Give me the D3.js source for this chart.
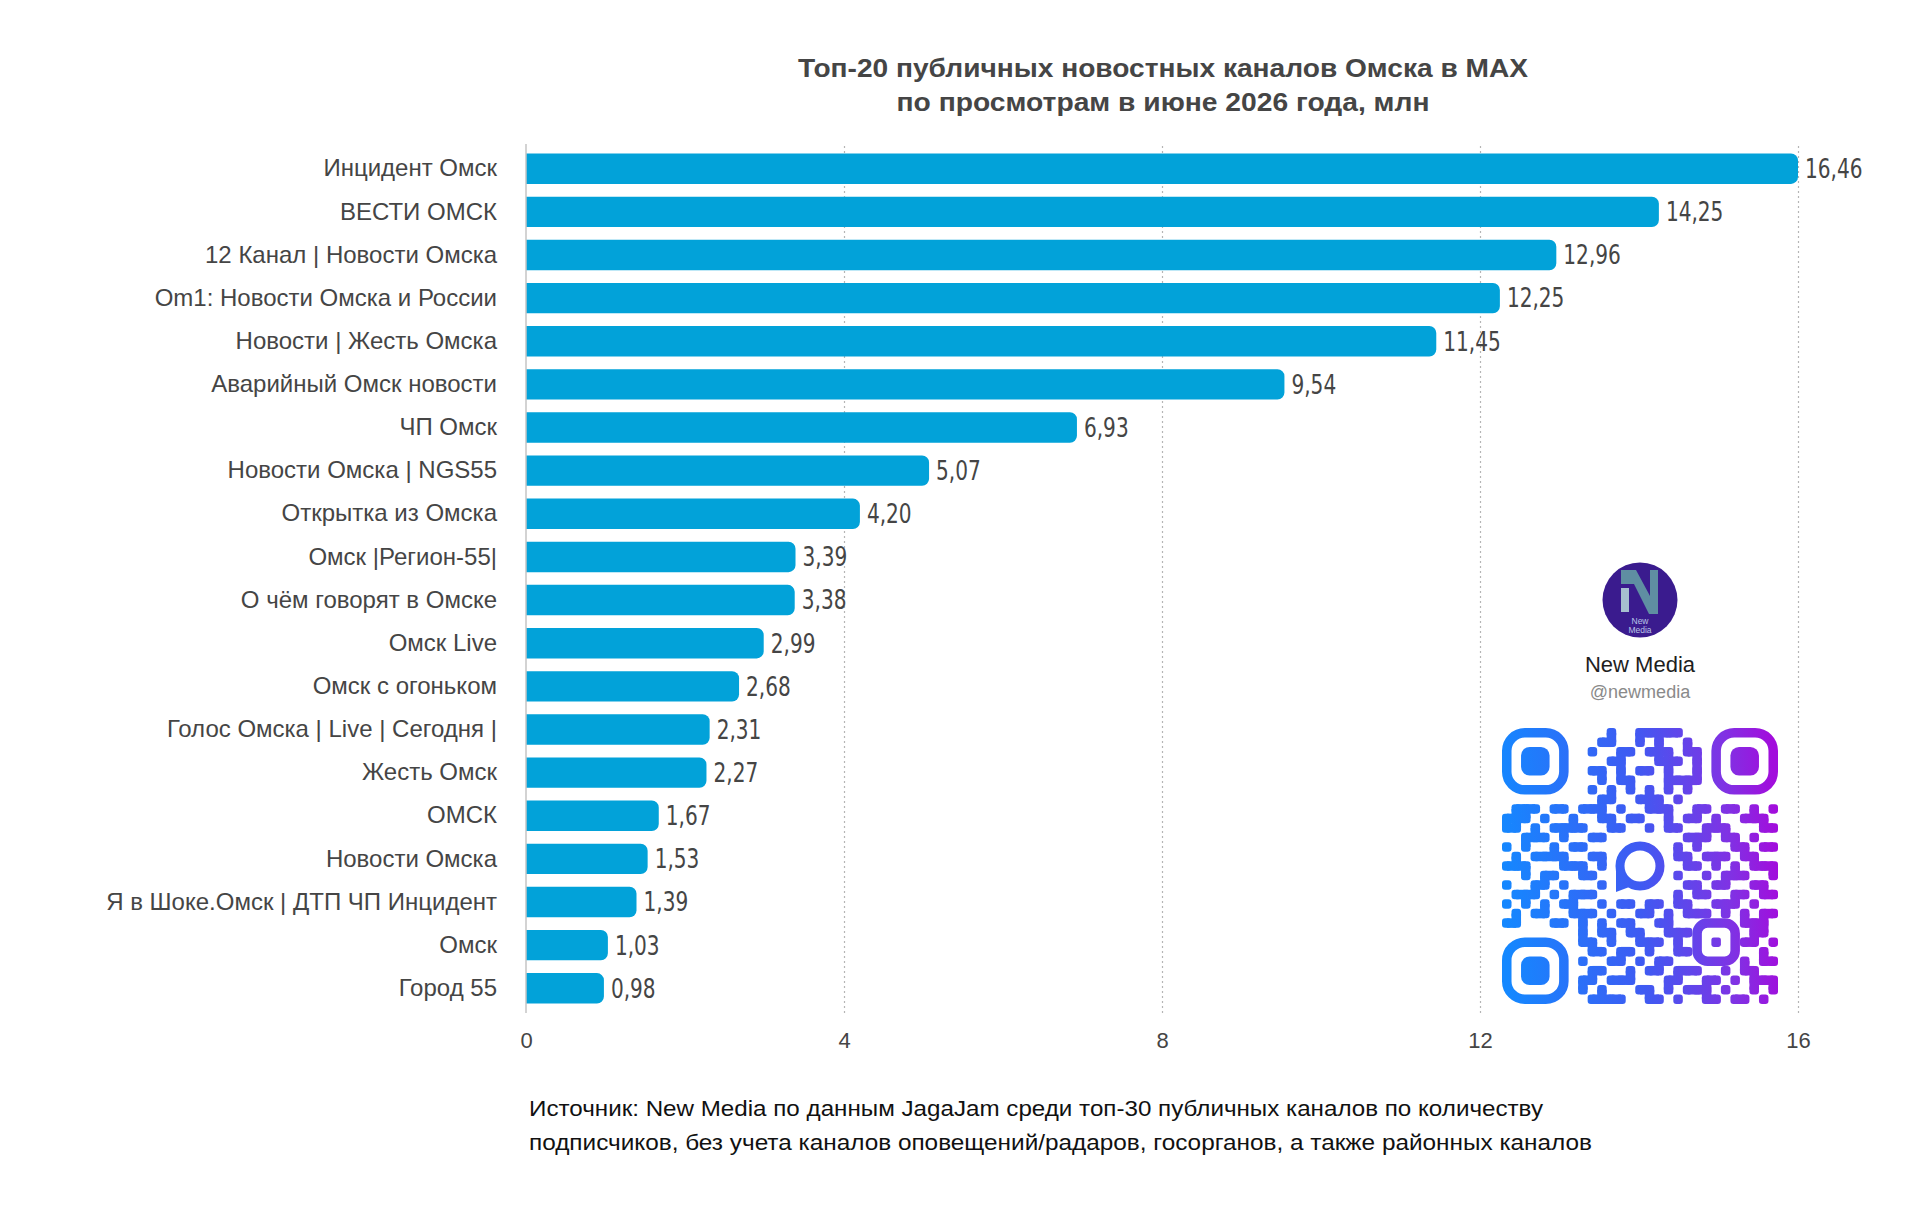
<!DOCTYPE html>
<html>
<head>
<meta charset="utf-8">
<script src="https://cdn.jsdelivr.net/npm/d3@7"></script>
<style>
  body { margin: 0; background: #fff; }
  svg { display: block; }
</style>
</head>
<body>
<svg id="chart" width="1920" height="1217"></svg>
<script>
const channels = [
  "Инцидент Омск",
  "ВЕСТИ ОМСК",
  "12 Канал | Новости Омска",
  "Om1: Новости Омска и России",
  "Новости | Жесть Омска",
  "Аварийный Омск новости",
  "ЧП Омск",
  "Новости Омска | NGS55",
  "Открытка из Омска",
  "Омск |Регион-55|",
  "О чём говорят в Омске",
  "Омск Live",
  "Омск с огоньком",
  "Голос Омска | Live | Сегодня |",
  "Жесть Омск",
  "ОМСК",
  "Новости Омска",
  "Я в Шоке.Омск | ДТП ЧП Инцидент",
  "Омск",
  "Город 55",
];
const views = [16.46, 14.25, 12.96, 12.25, 11.45, 9.54, 6.93, 5.07, 4.2, 3.39,
  3.38, 2.99, 2.68, 2.31, 2.27, 1.67, 1.53, 1.39, 1.03, 0.98];
const x_ticks = [0, 4, 8, 12, 16];

const title_lines = [
  "Топ-20 публичных новостных каналов Омска в MAX",
  "по просмотрам в июне 2026 года, млн",
];
const note_lines = [
  "Источник: New Media по данным JagaJam среди топ-30 публичных каналов по количеству",
  "подписчиков, без учета каналов оповещений/радаров, госорганов, а также районных каналов",
];

// decorative qr picture, 29 x 29 modules
const qr_rows = [
  "00000000000100111110000000000",
  "00000000001100101001000000000",
  "00000000010011011101100000000",
  "00000000000110001110100000000",
  "00000000011010110100110000000",
  "00000000001011000111100000000",
  "00000000010101010101010000000",
  "00000000001100111010010000000",
  "01110110111010011100110110101",
  "11101001001101100101101001110",
  "11010111100110010110011100011",
  "00111010011011001001110110100",
  "10100101100101110110100011011",
  "01011110011000101011011101100",
  "11100011101101010001101010111",
  "00101100110010111110010111001",
  "10011010001101001001101100110",
  "01110101110110100110110011011",
  "10101011001011011011001110100",
  "01011001110100110101110101011",
  "11000110101011001100011011110",
  "00000000101101100111011010110",
  "00000000110100111010101101101",
  "00000000011011010011010110010",
  "00000000100110101100101011011",
  "00000000011001011011100101100",
  "00000000110111000110011010111",
  "00000000101000110101110100101",
  "00000000011110011010011011010",
];

const margin = { left: 526, right: 122, top: 144, bottom: 204 };
const width = 1920;
const height = 1217;
const text_grey = "#454545";
const bar_color = "#02a2d9";

const svg = d3.select("#chart");
svg.append("rect").attr("width", width).attr("height", height).attr("fill", "#fff");

const x = d3.scaleLinear()
  .domain([0, 16])
  .range([margin.left, width - margin.right])
  .clamp(true);

const y = d3.scaleBand()
  .domain(channels)
  .range([margin.top, height - margin.bottom])
  .paddingInner(0.295)
  .paddingOuter(0.22);

const plot_bottom = height - margin.bottom;

// title, stretched to the width of the original lettering
const title_widths = [730, 533];
svg.append("g")
  .selectAll("text")
  .data(title_lines)
  .join("text")
  .attr("x", 1163)
  .attr("y", (d, i) => 77 + i * 34)
  .attr("text-anchor", "middle")
  .attr("font-family", "Liberation Sans, Arial, sans-serif")
  .attr("font-weight", "bold")
  .attr("font-size", 26)
  .attr("textLength", (d, i) => title_widths[i])
  .attr("lengthAdjust", "spacingAndGlyphs")
  .attr("fill", text_grey)
  .text((d) => d);

// grid lines
const grid = svg.append("g")
  .attr("transform", `translate(0, ${plot_bottom})`)
  .call(d3.axisBottom(x).tickValues(x_ticks.filter((d) => d > 0))
    .tickSize(-(plot_bottom - margin.top)).tickFormat(""));
grid.select(".domain").remove();
grid.selectAll(".tick line")
  .attr("stroke", "#b5b5b5")
  .attr("stroke-width", 1.2)
  .attr("stroke-dasharray", "2,3");

// x axis labels
const x_axis = svg.append("g")
  .attr("transform", `translate(0, ${plot_bottom})`)
  .call(d3.axisBottom(x).tickValues(x_ticks).tickSize(0).tickPadding(19)
    .tickFormat(d3.format("d")));
x_axis.select(".domain").remove();
x_axis.selectAll(".tick text")
  .attr("font-family", "Liberation Sans, Arial, sans-serif")
  .attr("font-size", 22)
  .attr("fill", text_grey);

// category labels
const y_axis = svg.append("g")
  .attr("transform", `translate(${margin.left}, 0)`)
  .call(d3.axisLeft(y).tickSize(0).tickPadding(29));
y_axis.select(".domain").remove();
y_axis.selectAll(".tick text")
  .attr("font-family", "Liberation Sans, Arial, sans-serif")
  .attr("font-size", 24)
  .attr("fill", text_grey);

// bars, rounded on the right end only
function bar_path(x0, y0, w, h, r) {
  r = Math.min(r, w / 2, h / 2);
  return `M${x0},${y0}H${x0 + w - r}A${r},${r} 0 0 1 ${x0 + w},${y0 + r}` +
    `V${y0 + h - r}A${r},${r} 0 0 1 ${x0 + w - r},${y0 + h}H${x0}Z`;
}

svg.append("g")
  .selectAll("path")
  .data(channels)
  .join("path")
  .attr("d", (d, i) => bar_path(x(0), y(d), x(views[i]) - x(0), y.bandwidth(), 7))
  .attr("fill", bar_color);

// axis line at zero
svg.append("line")
  .attr("x1", x(0)).attr("x2", x(0))
  .attr("y1", margin.top).attr("y2", plot_bottom)
  .attr("stroke", "#c4c4c4")
  .attr("stroke-width", 1.5);

// value labels (narrow lettering)
const fmt = (v) => d3.format(".2f")(v).replace(".", ",");
svg.append("g")
  .selectAll("text")
  .data(channels)
  .join("text")
  .attr("transform", (d, i) =>
    `translate(${x(views[i]) + 7}, ${y(d) + y.bandwidth() / 2}) scale(0.86, 1)`)
  .attr("dy", "0.36em")
  .attr("font-family", "DejaVu Sans Condensed, DejaVu Sans, sans-serif")
  .attr("font-stretch", "condensed")
  .attr("font-size", 26)
  .attr("fill", text_grey)
  .text((d, i) => fmt(views[i]));

// footnote
const note_widths = [1014, 1063];
svg.append("g")
  .selectAll("text")
  .data(note_lines)
  .join("text")
  .attr("x", 529)
  .attr("y", (d, i) => 1116 + i * 34)
  .attr("font-family", "Liberation Sans, Arial, sans-serif")
  .attr("font-size", 22)
  .attr("textLength", (d, i) => note_widths[i])
  .attr("lengthAdjust", "spacingAndGlyphs")
  .attr("fill", "#111")
  .text((d) => d);

// channel logo
const logo = svg.append("g").attr("transform", "translate(1640, 600)");
logo.append("circle").attr("r", 37.5).attr("fill", "#3a1b8e");
logo.append("path")
  .attr("d", "M-19,-30H-4L10,-4V-30H18V14H9L-6,-16H-19Z")
  .attr("fill", "#5f8ea2");
logo.append("rect")
  .attr("x", -19).attr("y", -12).attr("width", 8).attr("height", 24)
  .attr("fill", "#a7bfcf");
logo.selectAll("text.small")
  .data(["New", "Media"])
  .join("text")
  .attr("class", "small")
  .attr("x", 0)
  .attr("y", (d, i) => 24 + i * 9)
  .attr("text-anchor", "middle")
  .attr("font-family", "Liberation Sans, Arial, sans-serif")
  .attr("font-size", 8.5)
  .attr("fill", "#b9c3e6")
  .text((d) => d);

svg.append("text")
  .attr("x", 1640).attr("y", 672)
  .attr("text-anchor", "middle")
  .attr("font-family", "Liberation Sans, Arial, sans-serif")
  .attr("font-size", 22)
  .attr("fill", "#1e1e1e")
  .text("New Media");
svg.append("text")
  .attr("x", 1640).attr("y", 698)
  .attr("text-anchor", "middle")
  .attr("font-family", "Liberation Sans, Arial, sans-serif")
  .attr("font-size", 18)
  .attr("fill", "#8a8a8a")
  .text("@newmedia");

// qr picture
const qr_x = 1502, qr_y = 728, qr_size = 276;
const n = qr_rows.length;
const m = qr_size / n;

const defs = svg.append("defs");
const grad = defs.append("linearGradient")
  .attr("id", "qr_grad")
  .attr("gradientUnits", "userSpaceOnUse")
  .attr("x1", qr_x).attr("y1", qr_y + qr_size * 0.55)
  .attr("x2", qr_x + qr_size).attr("y2", qr_y + qr_size * 0.5);
grad.selectAll("stop")
  .data([["0", "#1488ff"], ["0.5", "#3f5af2"], ["0.82", "#7f33e4"], ["1", "#a20ddc"]])
  .join("stop")
  .attr("offset", (d) => d[0])
  .attr("stop-color", (d) => d[1]);

const qr = svg.append("g").attr("fill", "url(#qr_grad)");

function in_reserved(r, c) {
  if (r < 8 && c < 8) return true;
  if (r < 8 && c > n - 9) return true;
  if (r > n - 9 && c < 8) return true;
  if (r >= 11 && r <= 17 && c >= 11 && c <= 17) return true;
  if (r >= 20 && r <= 24 && c >= 20 && c <= 24) return true;
  return false;
}
function is_on(r, c) {
  if (r < 0 || c < 0 || r >= n || c >= n) return false;
  if (in_reserved(r, c)) return false;
  return qr_rows[r][c] === "1";
}

const cells = [];
for (let r = 0; r < n; r++) {
  for (let c = 0; c < n; c++) {
    if (is_on(r, c)) cells.push({ r, c });
  }
}

qr.selectAll("rect.mod")
  .data(cells)
  .join("rect")
  .attr("class", "mod")
  .attr("x", (d) => qr_x + d.c * m)
  .attr("y", (d) => qr_y + d.r * m)
  .attr("width", m)
  .attr("height", m)
  .attr("rx", m * 0.32);

// join neighbours so runs look like the rounded blobs
qr.selectAll("rect.hjoin")
  .data(cells.filter((d) => is_on(d.r, d.c + 1)))
  .join("rect")
  .attr("class", "hjoin")
  .attr("x", (d) => qr_x + (d.c + 0.5) * m)
  .attr("y", (d) => qr_y + d.r * m)
  .attr("width", m)
  .attr("height", m);
qr.selectAll("rect.vjoin")
  .data(cells.filter((d) => is_on(d.r + 1, d.c)))
  .join("rect")
  .attr("class", "vjoin")
  .attr("x", (d) => qr_x + d.c * m)
  .attr("y", (d) => qr_y + (d.r + 0.5) * m)
  .attr("width", m)
  .attr("height", m);

// finder squares
const finders = [[0, 0], [0, n - 7], [n - 7, 0]];
finders.forEach(([r, c]) => {
  qr.append("rect")
    .attr("x", qr_x + c * m + m / 2)
    .attr("y", qr_y + r * m + m / 2)
    .attr("width", 6 * m).attr("height", 6 * m)
    .attr("rx", 1.9 * m)
    .attr("fill", "none")
    .attr("stroke", "url(#qr_grad)")
    .attr("stroke-width", m);
  qr.append("rect")
    .attr("x", qr_x + (c + 2) * m)
    .attr("y", qr_y + (r + 2) * m)
    .attr("width", 3 * m).attr("height", 3 * m)
    .attr("rx", 0.9 * m);
});

// alignment square
qr.append("rect")
  .attr("x", qr_x + 20.5 * m).attr("y", qr_y + 20.5 * m)
  .attr("width", 4 * m).attr("height", 4 * m)
  .attr("rx", 1.1 * m)
  .attr("fill", "none")
  .attr("stroke", "url(#qr_grad)")
  .attr("stroke-width", m);
qr.append("rect")
  .attr("x", qr_x + 22 * m).attr("y", qr_y + 22 * m)
  .attr("width", m).attr("height", m)
  .attr("rx", 0.25 * m);

// chat bubble in the middle
const cx = qr_x + 14.5 * m, cy = qr_y + 14.5 * m;
qr.append("circle")
  .attr("cx", cx).attr("cy", cy)
  .attr("r", 20)
  .attr("fill", "none")
  .attr("stroke", "url(#qr_grad)")
  .attr("stroke-width", 9);
qr.append("path")
  .attr("d", `M${cx - 24},${cy + 4}L${cx - 24},${cy + 26}L${cx - 8},${cy + 20}Z`);
</script>
</body>
</html>
